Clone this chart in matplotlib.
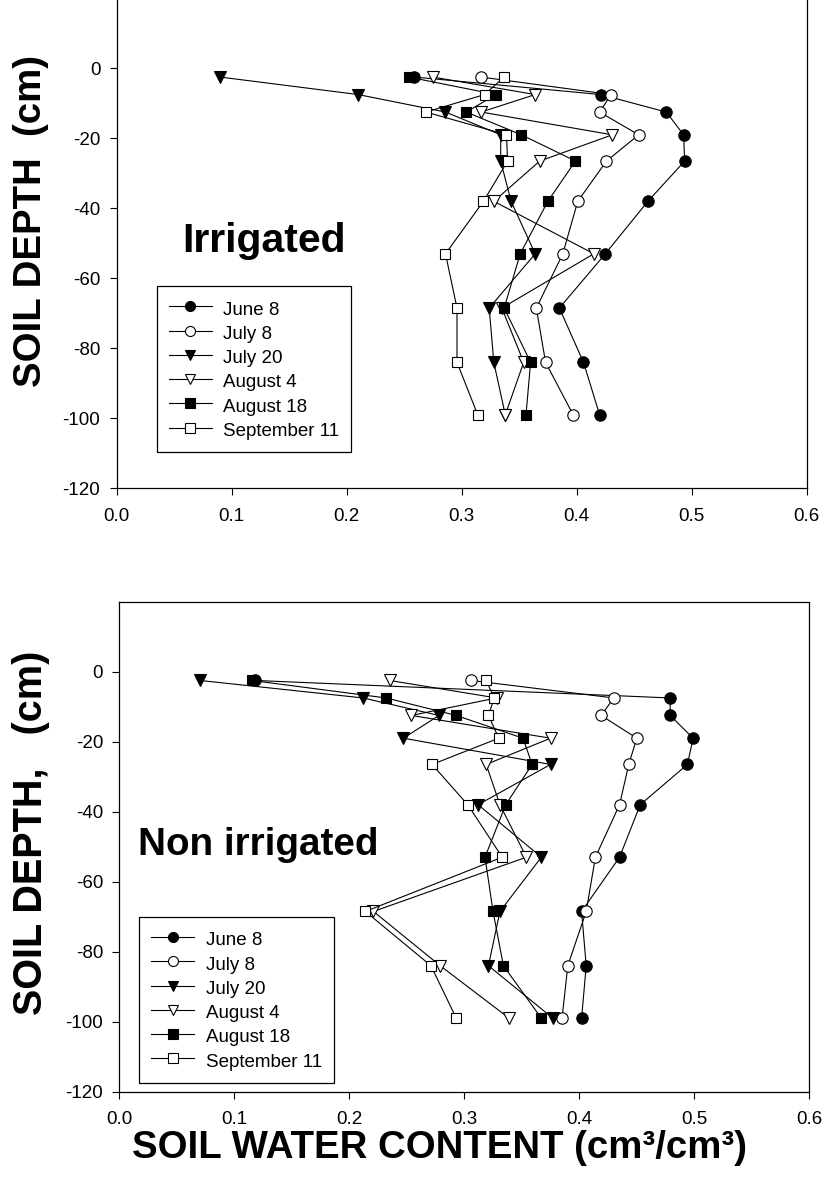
import matplotlib
matplotlib.use("Agg")
import matplotlib.pyplot as plt
from matplotlib.lines import Line2D

plt.rcParams['font.family'] = ['Liberation Sans', 'DejaVu Sans']
plt.rcParams['axes.unicode_minus'] = False

# ---------------- data ----------------
depth = [-2.5, -7.5, -12.5, -19, -26.5, -38, -53, -68.5, -84, -99]
series_labels = ["June 8", "July 8", "July 20", "August 4", "August 18", "September 11"]

# Irrigated
june8_irr = [0.259, 0.421, 0.478, 0.493, 0.494, 0.462, 0.425, 0.385, 0.406, 0.420]
july8_irr = [0.317, 0.430, 0.420, 0.454, 0.426, 0.401, 0.388, 0.365, 0.373, 0.397]
july20_irr = [0.090, 0.210, 0.286, 0.334, 0.334, 0.343, 0.364, 0.324, 0.328, 0.338]
aug4_irr = [0.275, 0.364, 0.317, 0.431, 0.368, 0.328, 0.415, 0.335, 0.354, 0.338]
aug18_irr = [0.254, 0.330, 0.304, 0.352, 0.399, 0.375, 0.351, 0.337, 0.360, 0.356]
sep11_irr = [0.337, 0.320, 0.269, 0.339, 0.340, 0.319, 0.286, 0.296, 0.296, 0.314]

# Non irrigated
june8_non = [0.118, 0.479, 0.479, 0.499, 0.494, 0.453, 0.435, 0.402, 0.406, 0.402]
july8_non = [0.306, 0.430, 0.419, 0.450, 0.443, 0.435, 0.414, 0.406, 0.390, 0.385]
july20_non = [0.070, 0.212, 0.278, 0.247, 0.375, 0.312, 0.367, 0.331, 0.321, 0.377]
aug4_non = [0.235, 0.328, 0.254, 0.375, 0.319, 0.331, 0.354, 0.221, 0.279, 0.339]
aug18_non = [0.115, 0.232, 0.293, 0.351, 0.359, 0.336, 0.318, 0.325, 0.334, 0.367]
sep11_non = [0.319, 0.326, 0.321, 0.330, 0.272, 0.303, 0.333, 0.214, 0.271, 0.293]

x_ticks = [0.0, 0.1, 0.2, 0.3, 0.4, 0.5, 0.6]
y_ticks = [-120, -100, -80, -60, -40, -20, 0]

# ---------------- styles ----------------
styles = [
    dict(marker='o', mfc='black', ms=8.2),
    dict(marker='o', mfc='white', ms=8.2),
    dict(marker='v', mfc='black', ms=8.2),
    dict(marker='v', mfc='white', ms=8.2),
    dict(marker='s', mfc='black', ms=7.4),
    dict(marker='s', mfc='white', ms=7.4),
]

fig = plt.figure(figsize=(8.26, 11.94), dpi=100)

W, H = 826.0, 1194.0


def make_axes(left_px, bottom_px):
    return fig.add_axes([left_px / W, (H - bottom_px) / H, 690.0 / W, 490.0 / H])


def draw_panel(ax, data, title, title_x, title_size, legend_anchor):
    for vals, lab, st in zip(data, series_labels, styles):
        ax.plot(vals, depth, color='black', lw=0.8, marker=st['marker'],
                mfc=st['mfc'], mec='black', mew=0.8, ms=st['ms'], label=lab,
                clip_on=False)
    ax.set_xlim(0, 0.6)
    ax.set_ylim(-120, 20)
    ax.set_xticks(x_ticks)
    ax.set_xticklabels([f"{v:.1f}" for v in x_ticks])
    ax.set_yticks(y_ticks)
    ax.tick_params(direction='out', length=4.7, width=0.8, labelsize=13.5,
                   colors='black')
    ax.tick_params(axis='x', pad=9.5)
    ax.tick_params(axis='y', pad=7)
    for s in ax.spines.values():
        s.set_linewidth(0.9)
    ax.text(title_x, -52.4, title, fontsize=title_size, fontweight='bold',
            va='baseline', ha='left')
    handles = [Line2D([0], [0], color='black', lw=0.8, marker=st['marker'],
                      mfc=st['mfc'], mec='black', mew=0.8, ms=st['ms'] * 0.88)
               for st in styles]
    leg = ax.legend(handles, series_labels, loc='upper left', bbox_to_anchor=legend_anchor,
                    borderaxespad=0, frameon=True, fancybox=False, framealpha=1,
                    edgecolor='black', fontsize=13.5, handlelength=2.3,
                    handleheight=1.3, handletextpad=0.6, labelspacing=0.2,
                    borderpad=0.65)
    leg.get_frame().set_linewidth(0.9)


ax1 = make_axes(116.6, 488.3)
draw_panel(ax1, [june8_irr, july8_irr, july20_irr, aug4_irr, aug18_irr, sep11_irr],
           "Irrigated", 0.057, 29.5, (0.058, 0.413))

ax2 = make_axes(119.3, 1091.7)
draw_panel(ax2, [june8_non, july8_non, july20_non, aug4_non, aug18_non, sep11_non],
           "Non irrigated", 0.016, 27.8, (0.0286, 0.357))

fig.text(31 / W, 1 - 221 / H, "SOIL DEPTH  (cm)", rotation=90, ha='center', va='center',
         fontsize=27.6, fontweight='bold')
fig.text(31 / W, 1 - 833 / H, "SOIL DEPTH,   (cm)", rotation=90, ha='center', va='center',
         fontsize=28.5, fontweight='bold')
fig.text(440 / W, 1 - 1148 / H, "SOIL WATER CONTENT (cm³/cm³)", ha='center', va='center',
         fontsize=27.6, fontweight='bold')

fig.savefig("out.png", dpi=100)
